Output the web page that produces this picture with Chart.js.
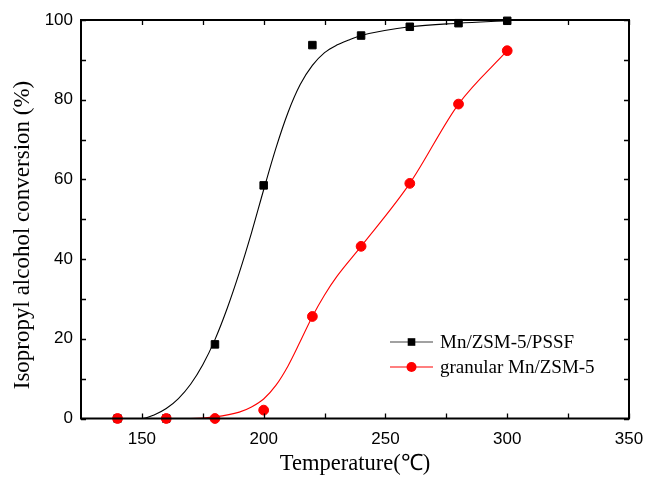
<!DOCTYPE html>
<html><head><meta charset="utf-8">
<script src="https://cdn.jsdelivr.net/npm/chart.js@4/dist/chart.umd.min.js"></script>
<style>html,body{margin:0;padding:0;background:#fff}#wrap{width:645px;height:481px;position:relative}canvas{display:block}</style>
</head><body><div id="wrap"><canvas id="c" width="645" height="481" style="width:645px;height:481px"></canvas></div>
<script>
// ---- data ----
const temperatures = [140, 160, 180, 200, 220, 240, 260, 280, 300];
const pssfConversion = [0, 0, 18.6, 58.5, 93.7, 96.1, 98.3, 99.2, 99.8];
const granularConversion = [0, 0, 0, 2.1, 25.6, 43.2, 59.0, 78.9, 92.3];
// fitted curves as drawn in the reference
const pssfFitT = [140, 150, 155, 160, 165, 170, 175, 180, 185, 190, 195, 200, 205, 210, 215, 220, 225, 230, 235, 240, 260, 280, 300];
const pssfFitV = [0, 0, 0.9, 2.5, 5.0, 8.6, 13.5, 19.8, 27.6, 36.6, 46.6, 57.4, 67.8, 76.8, 83.8, 88.6, 91.8, 93.7, 95.0, 96.1, 98.3, 99.2, 99.8];
const granFitT = [140, 170, 180, 190, 195, 200, 205, 210, 215, 220, 225, 230, 240, 260, 280, 300];
const granFitV = [0, 0, 0.4, 1.6, 2.9, 4.9, 8.3, 13.2, 19.3, 25.6, 31.0, 35.6, 43.2, 59.0, 78.9, 92.3];
const xTickLabels = [150, 200, 250, 300, 350];
const yTickLabels = [0, 20, 40, 60, 80, 100];
const seriesNames = ['Mn/ZSM-5/PSSF', 'granular Mn/ZSM-5'];
const xTitle = 'Temperature(\u2103)';
const yTitle = 'Isopropyl alcohol conversion (%)';

const pts = (xs, ys) => xs.map((x, i) => ({x, y: ys[i]}));

const chromePlugin = {
  id: 'chrome',
  afterDraw(chart) {
    const {ctx, chartArea: a, scales: {x, y}} = chart;
    ctx.save();
    ctx.strokeStyle = '#000';
    ctx.lineWidth = 1.3;
    const tl = 5;
    const xs = xTickLabels.slice();
    const xMinor = [];
    for (let i = 0; i < xs.length - 1; i++) xMinor.push((xs[i] + xs[i + 1]) / 2);
    const ys = yTickLabels.slice();
    const yMinor = [];
    for (let i = 0; i < ys.length - 1; i++) yMinor.push((ys[i] + ys[i + 1]) / 2);
    ctx.beginPath();
    xs.concat(xMinor).forEach(v => {
      const px = Math.round(x.getPixelForValue(v)) + 0.5;
      ctx.moveTo(px, a.bottom); ctx.lineTo(px, a.bottom - tl);
      ctx.moveTo(px, a.top); ctx.lineTo(px, a.top + tl);
    });
    ys.concat(yMinor).forEach(v => {
      const py = Math.round(y.getPixelForValue(v)) + 0.5;
      ctx.moveTo(a.left, py); ctx.lineTo(a.left + tl, py);
      ctx.moveTo(a.right, py); ctx.lineTo(a.right - tl, py);
    });
    ctx.stroke();
    ctx.lineWidth = 2;
    ctx.strokeRect(a.left, a.top, a.right - a.left, a.bottom - a.top);

    // y title
    ctx.save();
    ctx.translate(23, 235);
    ctx.rotate(-Math.PI / 2);
    ctx.fillStyle = '#000';
    ctx.font = '23px "Liberation Serif", "Times New Roman", serif';
    ctx.textAlign = 'center';
    ctx.textBaseline = 'middle';
    ctx.fillText(yTitle, 0, 0);
    ctx.restore();

    // legend
    const lx0 = a.right - 239, lx1 = a.right - 196, tx = a.right - 189;
    const ly = [a.top + 322, a.top + 347];
    const legendSets = [chart.data.datasets[1], chart.data.datasets[0]];
    legendSets.forEach((ds, i) => {
      ctx.beginPath();
      ctx.strokeStyle = i === 0 ? '#444' : ds.borderColor;
      ctx.lineWidth = 1.2;
      ctx.moveTo(lx0, ly[i]); ctx.lineTo(lx1, ly[i]); ctx.stroke();
      ctx.fillStyle = ds.backgroundColor;
      const mx = (lx0 + lx1) / 2;
      if (i === 0) { ctx.fillRect(mx - 3.8, ly[i] - 3.8, 7.6, 7.6); }
      else { ctx.beginPath(); ctx.arc(mx, ly[i], 5, 0, Math.PI * 2); ctx.fill(); }
      ctx.fillStyle = '#000';
      ctx.font = '19px "Liberation Serif", "Times New Roman", serif';
      ctx.textAlign = 'left';
      ctx.textBaseline = 'middle';
      ctx.fillText(ds.label, tx, ly[i] + 1);
    });
    ctx.restore();
  }
};

new Chart(document.getElementById('c'), {
  type: 'scatter',
  data: {
    datasets: [
      { label: seriesNames[1], data: pts(temperatures, granularConversion), showLine: false,
        pointStyle: 'circle', pointRadius: 4.9, pointBorderWidth: 1, borderColor: '#ff0000', backgroundColor: '#ff0000', clip: false },
      { label: seriesNames[0], data: pts(temperatures, pssfConversion), showLine: false,
        pointStyle: 'rect', pointRadius: 5.3, pointBorderWidth: 1, borderColor: '#000', backgroundColor: '#000', clip: false },
      { label: 'fit2', data: pts(granFitT, granFitV), showLine: true, pointRadius: 0, borderColor: '#ff0000', borderWidth: 1.1,
        cubicInterpolationMode: 'monotone', clip: false },
      { label: 'fit1', data: pts(pssfFitT, pssfFitV), showLine: true, pointRadius: 0, borderColor: '#000', borderWidth: 1.1,
        cubicInterpolationMode: 'monotone', clip: false }
    ]
  },
  options: {
    responsive: false,
    animation: false,
    devicePixelRatio: 1,
    layout: { padding: { top: 20, right: 16, left: 0, bottom: 0 } },
    plugins: { legend: { display: false }, tooltip: { enabled: false } },
    scales: {
      x: {
        type: 'linear', min: 125, max: 350,
        afterBuildTicks: s => { s.ticks = xTickLabels.map(v => ({value: v})); },
        afterFit: s => { s.height = 62.5; s.paddingLeft = 0; s.paddingRight = 0; },
        grid: { display: false, drawTicks: false },
        border: { display: false },
        ticks: { padding: 11, color: '#000', font: { family: '"Liberation Sans", Arial, sans-serif', size: 17 } },
        title: { display: true, text: xTitle, color: '#000', padding: { top: 0, bottom: 3 },
          font: { family: '"Liberation Serif", "Times New Roman", serif', size: 22.5 } }
      },
      y: {
        type: 'linear', min: 0, max: 100,
        afterBuildTicks: s => { s.ticks = yTickLabels.map(v => ({value: v})); },
        afterFit: s => { s.width = 81; s.paddingTop = 0; s.paddingBottom = 0; },
        grid: { display: false, drawTicks: false },
        border: { display: false },
        ticks: { padding: 8, color: '#000', font: { family: '"Liberation Sans", Arial, sans-serif', size: 17 } }
      }
    }
  },
  plugins: [chromePlugin]
});
</script>
</body></html>
